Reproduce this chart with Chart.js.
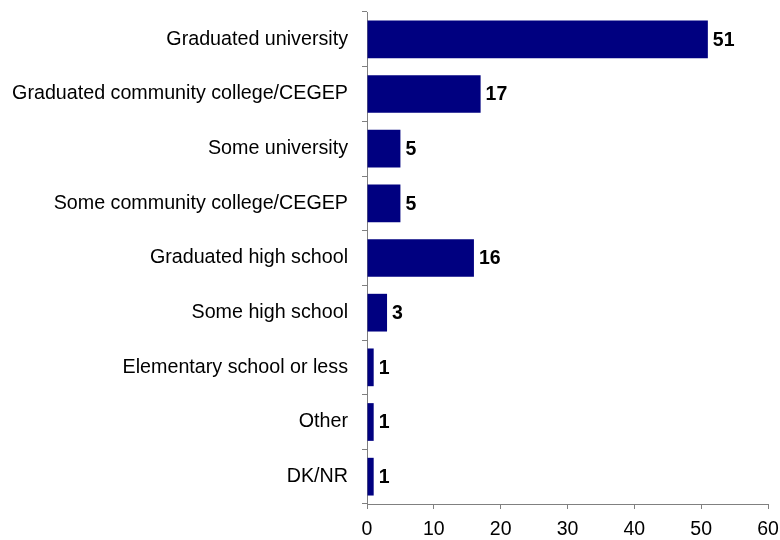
<!DOCTYPE html>
<html>
<head>
<meta charset="utf-8">
<script src="https://cdn.jsdelivr.net/npm/chart.js@4"></script>
<style>
  html, body { margin: 0; padding: 0; background: #fff; }
  #wrap { width: 780px; height: 540px; }
</style>
</head>
<body>
<div id="wrap"><canvas id="eduChart" width="780" height="540"></canvas></div>
<script>
// education levels, top to bottom
const categories = [
  "Graduated university",
  "Graduated community college/CEGEP",
  "Some university",
  "Some community college/CEGEP",
  "Graduated high school",
  "Some high school",
  "Elementary school or less",
  "Other",
  "DK/NR"
];
const percents = [51, 17, 5, 5, 16, 3, 1, 1, 1];
const xTicks = [0, 10, 20, 30, 40, 50, 60];

const FONT = "'Liberation Sans', Arial, sans-serif";

// write the value at the end of each bar
const valueLabels = {
  id: "valueLabels",
  afterDatasetsDraw(chart) {
    const ctx = chart.ctx;
    const meta = chart.getDatasetMeta(0);
    ctx.save();
    ctx.font = "bold 19.5px " + FONT;
    ctx.fillStyle = "#000";
    ctx.textAlign = "left";
    ctx.textBaseline = "middle";
    meta.data.forEach((bar, i) => {
      ctx.fillText(String(percents[i]), bar.x + 5, bar.y + 1);
    });
    ctx.restore();
  }
};

new Chart(document.getElementById("eduChart"), {
  type: "bar",
  data: {
    labels: categories,
    datasets: [{
      data: percents,
      backgroundColor: "#000080",
      borderWidth: 0,
      categoryPercentage: 0.69,
      barPercentage: 1.0
    }]
  },
  options: {
    indexAxis: "y",
    responsive: false,
    animation: false,
    layout: { padding: { top: 12, right: 12, bottom: 0, left: 0 } },
    plugins: { legend: { display: false }, tooltip: { enabled: false } },
    scales: {
      x: {
        min: 0,
        max: 60,
        afterBuildTicks(axis) { axis.ticks = xTicks.map(v => ({ value: v })); },
        afterFit(axis) {
          axis.height = 36;
          axis.paddingLeft = 0;
          axis.paddingRight = 0;
        },
        grid: { drawOnChartArea: false, drawTicks: true, tickLength: 5, color: "#808080" },
        border: { color: "#808080", width: 1 },
        ticks: {
          color: "#000",
          padding: 9,
          font: { family: FONT, size: 19.5 }
        }
      },
      y: {
        afterFit(axis) {
          axis.width = 367;
          axis.paddingTop = 0;
          axis.paddingBottom = 0;
        },
        grid: { drawOnChartArea: false, drawTicks: true, tickLength: 5, color: "#808080", offset: true },
        border: { color: "#808080", width: 1 },
        ticks: {
          color: "#000",
          padding: 14,
          font: { family: FONT, size: 19.7 }
        }
      }
    }
  },
  plugins: [valueLabels]
});
</script>
</body>
</html>
